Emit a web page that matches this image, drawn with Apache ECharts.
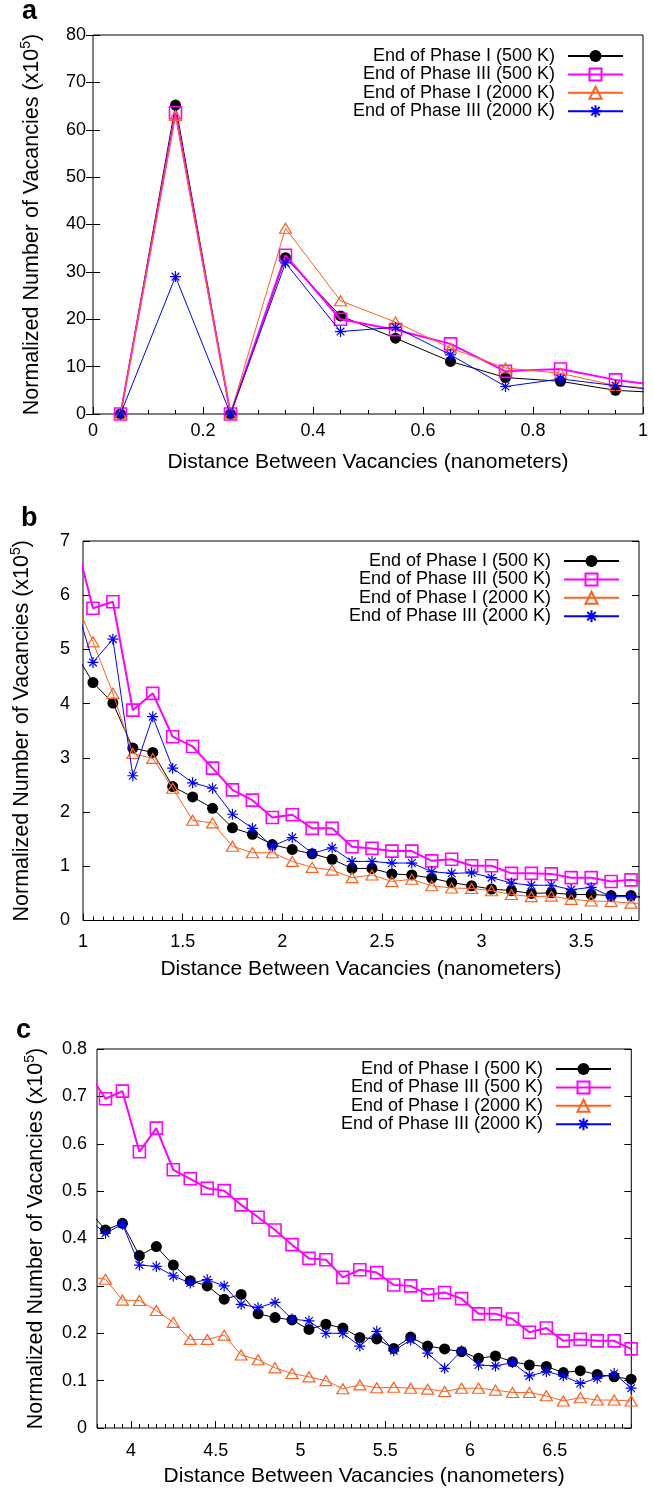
<!DOCTYPE html>
<html>
<head>
<meta charset="utf-8">
<script src="https://cdn.jsdelivr.net/npm/echarts@6/dist/echarts.min.js"></script>
<style>
html,body{margin:0;padding:0;background:#fff;}
#chart{width:653px;height:1493px;}
</style>
</head>
<body>
<div id="chart"></div>
<script>
// ---- data (distance in nm, normalized vacancies x10^5) ----
const dist = [0.05,0.15,0.25,0.35,0.45,0.55,0.65,0.75,0.85,0.95,
  1.05,1.15,1.25,1.35,1.45,1.55,1.65,1.75,1.85,1.95,
  2.05,2.15,2.25,2.35,2.45,2.55,2.65,2.75,2.85,2.95,
  3.05,3.15,3.25,3.35,3.45,3.55,3.65,3.75,
  3.85,3.95,4.05,4.15,4.25,4.35,4.45,4.55,4.65,4.75,
  4.85,4.95,5.05,5.15,5.25,5.35,5.45,5.55,5.65,5.75,
  5.85,5.95,6.05,6.15,6.25,6.35,6.45,6.55,6.65,6.75,6.85,6.95];

const phaseI_500K = [0,65.2,0,33,20.7,16,11.1,7.7,6.9,5.0,
  4.39,4.01,3.18,3.10,2.47,2.28,2.07,1.71,1.59,1.40,
  1.31,1.23,1.13,0.96,0.96,0.86,0.84,0.78,0.70,0.64,
  0.58,0.55,0.50,0.51,0.48,0.48,0.46,0.46,
  0.418,0.432,0.364,0.383,0.344,0.311,0.300,0.272,0.282,0.241,
  0.233,0.228,0.208,0.219,0.211,0.191,0.188,0.168,0.192,0.173,
  0.167,0.161,0.147,0.152,0.140,0.133,0.130,0.117,0.121,0.113,0.108,0.103];

const phaseIII_500K = [0,63.6,0,33.5,20,17.8,14.8,9.0,9.5,7.2,
  5.76,5.88,3.88,4.19,3.39,3.21,2.81,2.41,2.22,1.90,
  1.95,1.70,1.70,1.36,1.33,1.28,1.28,1.10,1.13,1.01,
  1.01,0.87,0.87,0.86,0.79,0.79,0.72,0.75,
  0.695,0.711,0.583,0.633,0.545,0.526,0.506,0.501,0.471,0.445,
  0.418,0.387,0.358,0.355,0.318,0.334,0.328,0.302,0.300,0.281,
  0.286,0.273,0.241,0.241,0.230,0.202,0.211,0.184,0.187,0.184,0.184,0.167];

const phaseI_2000K = [0,63,0,39.2,23.9,19.4,13.9,9.7,8.6,6.0,
  5.14,4.19,3.08,2.99,2.44,1.85,1.80,1.37,1.25,1.25,
  1.09,0.98,0.93,0.79,0.84,0.72,0.76,0.64,0.60,0.59,
  0.55,0.48,0.44,0.45,0.39,0.36,0.35,0.32,
  0.314,0.270,0.269,0.248,0.223,0.187,0.187,0.196,0.154,0.144,
  0.127,0.115,0.108,0.100,0.083,0.091,0.085,0.086,0.084,0.082,
  0.077,0.084,0.084,0.080,0.075,0.075,0.068,0.057,0.064,0.059,0.059,0.057];

const phaseIII_2000K = [0,29,0,31.9,17.4,18.3,12.5,5.8,7.4,6.0,
  4.76,5.19,2.67,3.76,2.81,2.54,2.44,1.96,1.70,1.37,
  1.53,1.24,1.34,1.09,1.09,1.06,1.06,0.90,0.87,0.88,
  0.79,0.69,0.65,0.65,0.57,0.61,0.44,0.44,
  0.411,0.430,0.344,0.341,0.321,0.306,0.313,0.300,0.261,0.254,
  0.265,0.230,0.226,0.200,0.200,0.173,0.204,0.163,0.186,0.158,
  0.126,0.163,0.133,0.131,0.138,0.110,0.119,0.110,0.094,0.105,0.115,0.084];

const seriesNames = ['End of Phase I (500 K)','End of Phase III (500 K)','End of Phase I (2000 K)','End of Phase III (2000 K)'];
const panelLetters = ['a','b','c'];
const xTickLabels = [
  ['0','0.2','0.4','0.6','0.8','1'],
  ['1','1.5','2','2.5','3','3.5'],
  ['4','4.5','5','5.5','6','6.5']
];
const xMinorStep = [0.05,0.05,0.05];
const xRanges = [[0,1],[1,3.79],[3.8,6.951]];
const yMaxes = [80,7,0.8];
const ySteps = [10,1,0.1];
const xTitle = 'Distance Between Vacancies (nanometers)';
const yTitle = '{t|Normalized Number of Vacancies (x10}{s|5}{t|)}';

// ---- layout / style ----
const FONT = '"Liberation Sans", Arial, Helvetica, sans-serif';
const grids = [
  {left:93, top:35, width:550, height:379},
  {left:83, top:541, width:556, height:379.5},
  {left:97, top:1049, width:534.3, height:379}
];
const legendPos = [{right:24, top:42},{right:28, top:547},{right:36, top:1055}];
const yLabelMargin = [7,13,10];
const xLabelMargin = [8,13,14];
const letterPos = [[22,11.7],[21,518.5],[16,1031]];
const allValues = [phaseI_500K, phaseIII_500K, phaseI_2000K, phaseIII_2000K];
const asterisk = 'path://M0,5L10,5M5,0L5,10M1.5,1.5L8.5,8.5M1.5,8.5L8.5,1.5';
const styles = [
  {symbol:'circle', symbolSize:11, itemStyle:{color:'#000'}, lineStyle:{color:'#000', width:1}},
  {symbol:'rect', symbolSize:12, itemStyle:{color:'rgba(0,0,0,0)', borderColor:'#ff00ff', borderWidth:1.6}, lineStyle:{color:'#ff00ff', width:2}},
  {symbol:'triangle', symbolSize:[12,10], itemStyle:{color:'rgba(0,0,0,0)', borderColor:'#ff6020', borderWidth:1.2}, lineStyle:{color:'#ff6020', width:1}},
  {symbol:asterisk, symbolSize:11, itemStyle:{color:'rgba(0,0,0,0)', borderColor:'#0000ff', borderWidth:1.2}, lineStyle:{color:'#0000ff', width:1}}
];

const option = {
  animation:false,
  backgroundColor:'#fff',
  grid:[], xAxis:[], yAxis:[], series:[], legend:[], graphic:[]
};

for (let p = 0; p < 3; p++) {
  option.grid.push(Object.assign({show:true, borderColor:'#000', borderWidth:1, backgroundColor:'rgba(0,0,0,0)'}, grids[p]));
  const majors = xTickLabels[p].map(Number);
  const minors = [];
  const st = xMinorStep[p];
  for (let k = Math.ceil(xRanges[p][0]/st - 1e-6); k*st <= xRanges[p][1] + 1e-9; k++) minors.push(+(k*st).toFixed(4));
  const xi = option.xAxis.length;
  option.xAxis.push({
    type:'value', gridIndex:p, min:xRanges[p][0], max:xRanges[p][1], position:'bottom',
    axisLine:{show:false}, splitLine:{show:false},
    axisTick:{show:true, inside:true, length:7, customValues:majors, lineStyle:{color:'#000', width:1}},
    axisLabel:{show:true, customValues:majors, margin:xLabelMargin[p], color:'#000', fontSize:18, fontFamily:FONT,
      formatter:(v)=>{ const i = majors.findIndex(m=>Math.abs(m-v)<1e-9); return i>=0 ? xTickLabels[p][i] : ''; }},
    name:xTitle, nameLocation:'middle', nameGap:38,
    nameTextStyle:{color:'#000', fontSize:21, fontFamily:FONT}
  });
  option.xAxis.push({
    type:'value', gridIndex:p, min:xRanges[p][0], max:xRanges[p][1], position:'bottom', offset:0,
    axisLine:{show:false}, splitLine:{show:false}, axisLabel:{show:false},
    axisTick:{show:true, inside:true, length:4, customValues:minors, lineStyle:{color:'#000', width:1}}
  });
  const yi = option.yAxis.length;
  option.yAxis.push({
    type:'value', gridIndex:p, min:0, max:yMaxes[p], interval:ySteps[p], position:'left',
    axisLine:{show:false}, splitLine:{show:false},
    axisTick:{show:true, inside:true, length:7, lineStyle:{color:'#000'}},
    axisLabel:{margin:yLabelMargin[p], color:'#000', fontSize:18, fontFamily:FONT},
    name:yTitle, nameLocation:'middle', nameGap:50, nameRotate:90,
    nameTextStyle:{color:'#000', fontSize:21.5, fontFamily:FONT,
      rich:{t:{fontSize:21.5, fontFamily:FONT, color:'#000', lineHeight:24, verticalAlign:'bottom'},
            s:{fontSize:14, fontFamily:FONT, color:'#000', lineHeight:14, verticalAlign:'top'}}}
  });
  option.yAxis.push({
    type:'value', gridIndex:p, min:0, max:yMaxes[p], interval:ySteps[p], position:'right',
    axisLine:{show:false}, splitLine:{show:false}, axisLabel:{show:false},
    axisTick:{show:true, inside:true, length:7, lineStyle:{color:'#000'}}
  });
  for (let s = 0; s < 4; s++) {
    option.series.push(Object.assign({
      type:'line', name:seriesNames[s], xAxisIndex:xi, yAxisIndex:yi, clip:true,
      showAllSymbol:true, emphasis:{disabled:true}, z:2+s,
      data: dist.map((d,i)=>[d, allValues[s][i]])
    }, JSON.parse(JSON.stringify(styles[s]))));
  }
  option.legend.push({
    data:seriesNames, orient:'vertical', align:'right', right:legendPos[p].right, top:legendPos[p].top,
    itemWidth:55, itemHeight:15, itemGap:0.4, selectedMode:false,
    textStyle:{color:'#000', fontSize:18, fontFamily:FONT, lineHeight:18, padding:[0,8,0,0]}
  });
  option.graphic.push({
    type:'text', x:letterPos[p][0], y:letterPos[p][1],
    style:{text:panelLetters[p], fontSize:27, fontWeight:'bold', fontFamily:FONT, fill:'#000', verticalAlign:'middle', align:'left'}
  });
}

const chart = echarts.init(document.getElementById('chart'), null, {renderer:'canvas'});
chart.setOption(option);
</script>
</body>
</html>
